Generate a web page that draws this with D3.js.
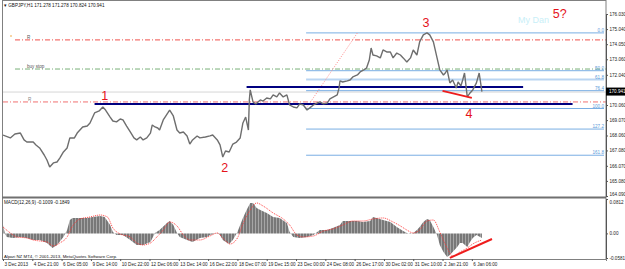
<!DOCTYPE html>
<html>
<head>
<meta charset="utf-8">
<script src="https://cdn.jsdelivr.net/npm/d3@7"></script>
<style>
  body { margin: 0; background: #fff; }
  svg { display: block; font-family: "Liberation Sans", Arial, sans-serif; }
  .tick-label { font-size: 4.6px; fill: #222; }
</style>
</head>
<body>
<div class="chart"></div>
<script>
// GBPJPY H1. bar = hour bar index from 3 Dec 2013
const priceBar = [0, 8, 13, 19, 23, 26, 33, 36, 40, 45, 48, 51, 55, 59, 62, 66, 70, 73, 78, 81, 84, 87, 92, 95, 100, 105, 109, 112, 117, 120, 124, 128, 131, 135, 139, 143, 146, 150, 153, 157, 161, 163, 166, 169, 171, 175, 177, 180, 182, 186, 190, 193, 197, 201, 204, 207, 212, 215, 221, 226, 229, 234, 237, 240, 243, 247, 251, 255, 259, 262, 265, 268, 269, 270, 273, 276, 281, 284, 288, 292, 295, 299, 302, 306, 310, 313, 317, 321, 324, 328, 332, 335, 339, 343, 346, 350, 354, 357, 361, 365, 367, 368, 371, 376, 379, 382, 387, 390, 394, 397, 400, 402, 404, 408, 412, 415, 419, 423, 426, 430, 434, 437, 441, 445, 448, 452, 455, 459, 463, 466, 470, 474, 477, 481, 483, 485, 488, 491, 495, 497, 500, 502, 504, 507, 510, 513, 517, 520, 523];
const priceVal = [168.09, 167.90, 168.16, 168.22, 167.77, 167.63, 167.63, 167.44, 167.24, 166.78, 166.45, 165.99, 166.26, 166.32, 166.58, 166.98, 167.24, 167.90, 167.90, 168.22, 168.42, 168.62, 168.68, 168.88, 169.54, 169.67, 169.93, 169.73, 169.27, 169.01, 168.95, 169.14, 169.08, 168.68, 168.29, 167.90, 167.77, 167.96, 167.77, 167.90, 168.22, 168.75, 168.62, 168.55, 168.42, 169.08, 169.27, 169.54, 169.73, 169.34, 168.42, 168.22, 168.29, 168.03, 167.50, 167.77, 168.03, 167.90, 167.96, 168.03, 168.09, 167.77, 167.44, 166.65, 167.04, 166.98, 167.50, 167.63, 167.90, 168.88, 169.27, 168.42, 170.39, 171.05, 170.26, 170.13, 170.39, 170.32, 170.52, 170.46, 170.72, 170.59, 170.85, 170.59, 170.72, 170.06, 169.93, 169.87, 170.13, 170.06, 169.73, 169.87, 170.06, 170.19, 170.26, 170.13, 170.19, 170.46, 170.59, 170.72, 171.18, 171.64, 171.57, 171.64, 171.70, 171.90, 172.03, 172.23, 172.36, 172.49, 173.01, 173.80, 173.34, 173.28, 173.15, 173.67, 173.54, 173.54, 173.15, 173.47, 173.34, 173.15, 172.88, 173.15, 173.67, 173.34, 174.20, 174.66, 174.79, 174.66, 174.20, 173.15, 172.36, 172.03, 172.16, 172.36, 171.51, 171.70, 171.18, 171.57, 171.31, 171.70, 172.16, 170.59, 170.85, 171.05, 171.51, 172.16, 170.94];

const macdBar = [0, 2, 4, 11, 19, 26, 33, 40, 48, 54, 59, 66, 70, 73, 76, 84, 92, 98, 106, 111, 117, 120, 124, 131, 139, 146, 153, 161, 166, 171, 179, 182, 186, 190, 193, 201, 207, 215, 223, 226, 234, 237, 240, 245, 247, 251, 256, 259, 262, 266, 270, 273, 277, 281, 288, 295, 302, 310, 313, 317, 324, 332, 339, 346, 354, 360, 368, 371, 379, 387, 393, 401, 404, 408, 415, 423, 430, 437, 441, 445, 448, 452, 455, 459, 463, 466, 470, 474, 477, 481, 485, 488, 491, 496, 499, 502, 507, 510, 513, 517, 521, 523];
const macdVal = [0.0198, 0.0010, -0.0085, -0.0109, -0.0085, -0.0109, -0.0156, -0.0156, -0.0227, -0.0345, -0.0274, -0.0085, 0.0080, 0.0316, 0.0364, 0.0364, 0.0364, 0.0387, 0.0411, 0.0387, 0.0198, 0.0033, -0.0038, -0.0038, -0.0156, -0.0274, -0.0274, -0.0203, 0.0010, 0.0080, 0.0246, 0.0293, 0.0198, 0.0010, -0.0085, -0.0156, -0.0203, -0.0109, -0.0085, -0.0038, 0.0010, -0.0038, -0.0156, -0.0227, -0.0250, -0.0156, 0.0033, 0.0198, 0.0364, 0.0553, 0.0718, 0.0718, 0.0600, 0.0553, 0.0482, 0.0387, 0.0364, 0.0246, 0.0033, -0.0085, -0.0109, -0.0085, -0.0038, 0.0080, 0.0080, 0.0128, 0.0198, 0.0293, 0.0293, 0.0293, 0.0269, 0.0293, 0.0387, 0.0364, 0.0316, 0.0269, 0.0151, 0.0057, 0.0010, -0.0014, 0.0010, 0.0080, 0.0151, 0.0269, 0.0340, 0.0316, 0.0151, -0.0038, -0.0274, -0.0439, -0.0557, -0.0510, -0.0439, -0.0321, -0.0227, -0.0227, -0.0321, -0.0203, -0.0109, -0.0038, -0.0085, -0.0109];

const signalBar = [0, 8, 15, 26, 33, 40, 48, 55, 62, 70, 76, 84, 95, 106, 114, 120, 128, 139, 146, 153, 161, 168, 175, 182, 190, 197, 204, 215, 226, 234, 240, 248, 256, 262, 270, 277, 284, 295, 306, 313, 321, 328, 339, 350, 360, 371, 382, 393, 404, 415, 426, 434, 441, 448, 455, 463, 470, 477, 485, 491, 499, 507, 513, 523];
const signalVal = [0.0151, 0.0010, -0.0085, -0.0109, -0.0156, -0.0179, -0.0203, -0.0298, -0.0227, -0.0085, 0.0175, 0.0340, 0.0387, 0.0434, 0.0387, 0.0128, -0.0014, -0.0085, -0.0227, -0.0274, -0.0227, -0.0085, 0.0080, 0.0269, 0.0175, -0.0038, -0.0156, -0.0156, -0.0061, 0.0010, -0.0109, -0.0250, -0.0109, 0.0222, 0.0553, 0.0718, 0.0647, 0.0482, 0.0340, 0.0198, -0.0038, -0.0085, -0.0061, 0.0057, 0.0104, 0.0198, 0.0293, 0.0293, 0.0340, 0.0364, 0.0269, 0.0175, 0.0080, 0.0010, 0.0080, 0.0293, 0.0316, 0.0033, -0.0345, -0.0534, -0.0439, -0.0345, -0.0250, -0.0156];

const timeTickBars = [0, 32, 64, 96, 128, 160, 192, 224, 256, 288, 320, 352, 384, 416, 448, 480, 512];
const timeTickLabels = ['3 Dec 2013', '4 Dec 21:00', '6 Dec 05:00', '9 Dec 14:00', '10 Dec 22:00', '12 Dec 06:00', '13 Dec 14:00', '16 Dec 22:00', '18 Dec 07:00', '19 Dec 15:00', '23 Dec 00:00', '24 Dec 08:00', '26 Dec 17:00', '30 Dec 02:00', '31 Dec 10:00', '2 Jan 21:00', '6 Jan 06:00'];
const priceTicks = [176.030, 175.040, 174.050, 173.060, 172.040, 170.060, 169.070, 168.060, 167.080, 166.070, 165.080, 164.090];
const macdTicks = [0.0812, 0, -0.0581];
const macdTickLabels = ['0.0812', '0.00', '-0.0581'];

const fibLevels = [0, 50, 61.8, 76.4, 100, 127.2, 161.8];
const fibLabels = ['0.0', '50.0', '61.8', '76.4', '100.0', '127.2', '161.8'];
const fibHigh = 174.79, fibLow = 169.83, fibStartBar = 331, fibTopBar = 387;

const lastPrice = 170.941;
const waveText = ['1', '2', '3', '4', '5?'];
const waveBar = [111, 242, 462, 509, 608];
const wavePrice = [170.39, 165.66, 175.18, 169.21, 175.77];

let Chart = (function (d3) {
	const W = 625, H = 269;
	const left = 3, right = 606;
	const main = { top: 1, bottom: 197 };
	const sub = { top: 199, bottom: 259 };

	const svg = d3.select('.chart').append('svg').attr('width', W).attr('height', H);

	const x = d3.scaleLinear().domain([0, 658.5]).range([left, right]);
	const y = d3.scaleLinear().domain([164.09, 176.03]).range([196, 14]);
	const ym = d3.scaleLinear().domain([-0.0581, 0.0812]).range([258, 199]);

	// stripes for the histogram
	const defs = svg.append('defs');
	const pat = defs.append('pattern').attr('id', 'hist').attr('patternUnits', 'userSpaceOnUse')
		.attr('width', 3).attr('height', 4);
	pat.append('rect').attr('width', 3).attr('height', 4).attr('fill', '#787878');
	pat.append('rect').attr('width', 1).attr('height', 4).attr('fill', '#a6a6a6');
	defs.append('clipPath').attr('id', 'mainClip').append('rect')
		.attr('x', left).attr('y', main.top).attr('width', right - left).attr('height', main.bottom - main.top);

	const plot = svg.append('g').attr('clip-path', 'url(#mainClip)');

	function hline(price, x0, x1, color, dash, width) {
		plot.append('line')
			.attr('x1', x0).attr('x2', x1).attr('y1', y(price)).attr('y2', y(price))
			.attr('stroke', color).attr('stroke-width', width || 1)
			.attr('stroke-dasharray', dash || null);
	}

	// horizontal levels
	hline(170.91, left, right, '#d6d6d6');
	hline(174.33, 15, right, '#f0504a', '5,2,1,2');
	hline(172.42, 15, right, '#79b079', '5,2,1,2');
	hline(170.26, left, right, '#f07070', '5,2,1,2');

	// fibonacci
	fibLevels.forEach(function (lv, i) {
		const p = fibHigh - (fibHigh - fibLow) * lv / 100;
		const xs = x(fibStartBar);
		plot.append('line')
			.attr('x1', xs).attr('x2', right - 2).attr('y1', y(p)).attr('y2', y(p))
			.attr('stroke', lv === 61.8 ? '#b9d5f2' : '#79aee3')
			.attr('stroke-width', lv === 61.8 ? 2 : 1);
		plot.append('text')
			.attr('x', right - 2).attr('y', y(p) - 1)
			.attr('text-anchor', 'end').attr('font-size', 4.6).attr('fill', '#5b9bd9')
			.text(fibLabels[i]);
	});
	plot.append('line')
		.attr('x1', x(fibStartBar)).attr('y1', y(fibLow))
		.attr('x2', x(fibTopBar)).attr('y2', y(fibHigh))
		.attr('stroke', '#ff8a8a').attr('stroke-dasharray', '1,1.5');

	// navy trend levels
	[[100, 622, 170.13], [266, 568, 171.24]].forEach(function (t) {
		plot.append('line')
			.attr('x1', x(t[0])).attr('x2', x(t[1])).attr('y1', y(t[2])).attr('y2', y(t[2]))
			.attr('stroke', '#000080').attr('stroke-width', 2);
	});

	// price
	const line = d3.line()
		.x(function (d, i) { return x(priceBar[i]) })
		.y(function (d) { return y(d) });
	plot.append('path').datum(priceVal).attr('d', line)
		.attr('fill', 'none').attr('stroke', '#6e6e6e').attr('stroke-width', 1.4)
		.attr('stroke-linejoin', 'bevel');

	// red line near 4
	plot.append('line')
		.attr('x1', x(480)).attr('y1', y(170.98)).attr('x2', x(512)).attr('y2', y(170.52))
		.attr('stroke', '#ee1c1c').attr('stroke-width', 1.8);

	// wave labels
	plot.append('text').attr('x', 518).attr('y', 23).attr('font-size', 9)
		.attr('fill', '#c9eff8').text('My Dan');
	waveText.forEach(function (t, i) {
		plot.append('text').attr('x', x(waveBar[i])).attr('y', y(wavePrice[i]))
			.attr('text-anchor', 'middle').attr('font-size', 12.5).attr('fill', '#e5131b').text(t);
	});

	// left-side object names
	plot.append('text').attr('x', 27).attr('y', 39).attr('font-size', 4.6).attr('fill', '#555').text('R');
	plot.append('text').attr('x', 27).attr('y', 68).attr('font-size', 4.6).attr('fill', '#555').text('buy stop');
	plot.append('text').attr('x', 28).attr('y', 101).attr('font-size', 4.6).attr('fill', '#888').text('R');
	plot.append('circle').attr('cx', 11).attr('cy', 36).attr('r', 0.8).attr('fill', '#f0a030');

	svg.append('text').attr('x', 4).attr('y', 7).attr('font-size', 4.6).attr('fill', '#111')
		.text('\u25BE GBPJPY,H1  171.278 171.278 170.824 170.941');

	// MACD pane
	const area = d3.area()
		.x(function (d, i) { return x(macdBar[i]) })
		.y0(ym(0))
		.y1(function (d) { return ym(d) });
	svg.append('path').datum(macdVal).attr('d', area).attr('fill', 'url(#hist)');
	const sig = d3.line()
		.x(function (d, i) { return x(signalBar[i]) })
		.y(function (d) { return ym(d) })
		.curve(d3.curveMonotoneX);
	svg.append('path').datum(signalVal).attr('d', sig)
		.attr('fill', 'none').attr('stroke', '#ff3030').attr('stroke-width', 0.9)
		.attr('stroke-dasharray', '1,1');
	svg.append('line')
		.attr('x1', x(488)).attr('y1', ym(-0.058)).attr('x2', x(534)).attr('y2', ym(-0.0132))
		.attr('stroke', '#ee1c1c').attr('stroke-width', 2);

	svg.append('text').attr('x', 4).attr('y', 204).attr('font-size', 4.6).attr('fill', '#111')
		.text('MACD(12,26,9) -0.1009 -0.1849');
	svg.append('text').attr('x', 4).attr('y', 258).attr('font-size', 4.4).attr('fill', '#111')
		.text('Alpari NZ MT4, \u00A9 2001-2013, MetaQuotes Software Corp.');

	// frame
	svg.append('rect').attr('x', 2.5).attr('y', 0.5).attr('width', right - 2.5).attr('height', sub.bottom)
		.attr('fill', 'none').attr('stroke', '#808080');
	svg.append('rect').attr('x', 2).attr('y', 196.5).attr('width', right - 2).attr('height', 2)
		.attr('fill', '#707070');

	// price axis
	const yAxis = d3.axisRight(y).tickValues(priceTicks).tickSize(2)
		.tickFormat(function (d) { return d.toFixed(3) });
	const gy = svg.append('g').attr('transform', 'translate(' + right + ',0)').call(yAxis);
	const mAxis = d3.axisRight(ym).tickValues(macdTicks).tickSize(2)
		.tickFormat(function (d, i) { return macdTickLabels[i] });
	const gm = svg.append('g').attr('transform', 'translate(' + right + ',0)').call(mAxis);
	[gy, gm].forEach(function (g) {
		g.select('.domain').attr('stroke', '#555');
		g.selectAll('.tick line').attr('stroke', '#555');
		g.selectAll('.tick text').attr('class', 'tick-label').attr('x', 3.5);
	});
	// keep the two labels at the pane split apart
	gy.selectAll('.tick text').filter(function (d) { return d === 164.09 }).attr('dy', '-0.1em');
	gm.selectAll('.tick text').filter(function (d) { return d === 0.0812 }).attr('dy', '0.9em');

	// last price box
	svg.append('rect').attr('x', right).attr('y', y(lastPrice) - 4).attr('width', W - right).attr('height', 8).attr('fill', '#000');
	svg.append('text').attr('x', right + 3).attr('y', y(lastPrice) + 1.6).attr('font-size', 4.6).attr('fill', '#fff')
		.text(lastPrice.toFixed(3));

	// time axis
	const xAxis = d3.axisBottom(x).tickValues(timeTickBars).tickSize(2)
		.tickFormat(function (d, i) { return timeTickLabels[i] });
	const gx = svg.append('g').attr('transform', 'translate(0,' + sub.bottom + ')').call(xAxis);
	gx.select('.domain').attr('stroke', '#808080');
	gx.selectAll('.tick line').attr('stroke', '#555');
	gx.selectAll('.tick text').attr('class', 'tick-label').attr('text-anchor', 'start').attr('x', 1).attr('y', 4);

	return { svg: svg };
})(d3);
</script>
</body>
</html>
